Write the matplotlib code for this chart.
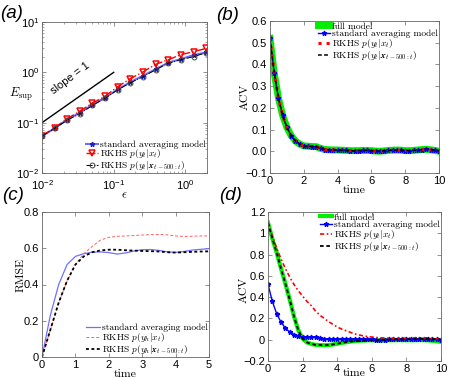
import numpy as np
import matplotlib
matplotlib.use("Agg")
import matplotlib.pyplot as plt

# ---- panel (a): E_sup vs epsilon ----
eps = [0.01, 0.015, 0.0225, 0.0338, 0.0506, 0.0759, 0.114, 0.171, 0.256,
       0.384, 0.577, 0.865, 1.30, 1.95]
esup_avg = [0.054, 0.077, 0.115, 0.158, 0.228, 0.314, 0.459, 0.642, 0.859,
            1.16, 1.56, 1.84, 2.21, 2.50]
esup_rkhs = [0.055, 0.079, 0.12, 0.17, 0.245, 0.335, 0.52, 0.75, 1.02,
             1.44, 1.78, 2.24, 2.57, 2.99]
esup_rkhs_mem = [0.054, 0.077, 0.112, 0.152, 0.22, 0.305, 0.45, 0.62, 0.82,
                 1.12, 1.52, 1.78, 2.05, 2.45]
slope_x = [0.01, 0.1]
slope_y = [0.1, 1.0]

# ---- panel (b) / (d): ACV, time 0..10 step 0.25 ----
t_acv = np.arange(41) * 0.25
acv_avg = [0.52, 0.36, 0.245, 0.165, 0.11, 0.072, 0.048, 0.033, 0.025, 0.023,
           0.022, 0.021, 0.013, 0.008, 0.007, 0.006, 0.006, 0.005, 0.004, 0.003,
           0.003, 0.003, 0.004, 0.004, 0.003, 0.001, 0.0, 0.002, 0.004, 0.005,
           0.006, 0.005, 0.003, 0.003, 0.004, 0.006, 0.008, 0.009, 0.007, 0.004,
           0.002]
acv_full_b = [0.52, 0.36, 0.245, 0.165, 0.11, 0.072, 0.048, 0.033, 0.025, 0.023,
              0.022, 0.021, 0.013, 0.008, 0.007, 0.006, 0.006, 0.005, 0.004, 0.003,
              0.003, 0.003, 0.004, 0.004, 0.003, 0.001, 0.0, 0.002, 0.004, 0.005,
              0.006, 0.005, 0.003, 0.003, 0.004, 0.006, 0.008, 0.009, 0.007, 0.004,
              0.0]
acv_rkhs_b = acv_avg
acv_rkhs_mem_b = acv_avg

acv_full_d = [1.10, 0.95, 0.82, 0.67, 0.53, 0.38, 0.22, 0.09, 0.01, -0.025,
              -0.04, -0.048, -0.05, -0.052, -0.05, -0.045, -0.038, -0.03, -0.024,
              -0.018, -0.013, -0.01, -0.008, -0.006, -0.005, -0.005, -0.006,
              -0.006, -0.005, -0.005, -0.004, -0.004, -0.005, -0.005, -0.005,
              -0.004, -0.004, -0.006, -0.01, -0.015, -0.02]
acv_rkhs_d = [1.10, 0.97, 0.86, 0.76, 0.67, 0.59, 0.52, 0.46, 0.41, 0.36,
              0.32, 0.27, 0.23, 0.20, 0.17, 0.145, 0.12, 0.10, 0.085, 0.07,
              0.055, 0.045, 0.037, 0.03, 0.025, 0.021, 0.018, 0.016, 0.014, 0.013,
              0.013, 0.014, 0.015, 0.016, 0.017, 0.018, 0.018, 0.015, 0.011, 0.008,
              0.005]
acv_rkhs_mem_d = [1.10, 0.95, 0.82, 0.67, 0.53, 0.38, 0.22, 0.09, 0.01, -0.025,
                  -0.04, -0.048, -0.05, -0.052, -0.05, -0.045, -0.038, -0.03, -0.024,
                  -0.018, -0.013, -0.01, -0.008, -0.006, -0.004, -0.002, 0.0,
                  0.0, 0.001, 0.002, 0.003, 0.004, 0.005, 0.006, 0.008,
                  0.01, 0.012, 0.01, 0.007, 0.004, 0.002]

# ---- panel (c): RMSE, time 0..5 step 0.25 ----
t_rmse = np.arange(21) * 0.25
rmse_avg = [0, 0.23, 0.40, 0.51, 0.555, 0.57, 0.578, 0.58, 0.576, 0.568, 0.574,
            0.585, 0.592, 0.593, 0.588, 0.58, 0.577, 0.582, 0.59, 0.594, 0.598]
rmse_rkhs = [0, 0.15, 0.30, 0.42, 0.51, 0.57, 0.61, 0.645, 0.66, 0.666, 0.668,
             0.67, 0.673, 0.675, 0.676, 0.674, 0.668, 0.665, 0.666, 0.668, 0.668]
rmse_rkhs_mem = [0, 0.15, 0.30, 0.42, 0.51, 0.555, 0.578, 0.588, 0.592, 0.592,
                 0.589, 0.587, 0.585, 0.584, 0.582, 0.578, 0.576, 0.578, 0.58,
                 0.582, 0.583]

lab_avg = "standard averaging model"
lab_full = "full model"
lab_rkhs = r"RKHS $p(y_t|x_t)$"
lab_mem = r"RKHS $p(y_t|\mathbfit{x}_{t-500:t})$"
lab_rkhs_c = r"RKHS $p(y_h|x_t)$"
lab_mem_c = r"RKHS $p(y_h|\mathbfit{x}_{t-500:t})$"

plt.rcParams["font.family"] = ["Liberation Sans", "DejaVu Sans"]
plt.rcParams["mathtext.fontset"] = "cm"
plt.rcParams["font.size"] = 8
SERIF = "cmr10"
LEG = dict(family=SERIF, size=6.8)
LAB = dict(family=SERIF, fontsize=8.5)


def style_axes(ax):
    for s in ax.spines.values():
        s.set_color("#666666")
        s.set_linewidth(0.6)
    ax.tick_params(direction="in", top=True, right=True, length=3,
                   width=0.5, color="#666666", labelsize=8, pad=2)
    ax.tick_params(which="minor", direction="in", top=True, right=True,
                   length=1.5, width=0.4, color="#666666")


def add_legend(ax, loc, anchor, hl=1.3, sp=-0.1):
    ax.legend(loc=loc, bbox_to_anchor=anchor, frameon=False, prop=LEG,
              borderpad=0.05, borderaxespad=0.05, handlelength=hl,
              handletextpad=0.2, labelspacing=sp, numpoints=1)


fig = plt.figure(figsize=(4.63, 3.78), dpi=100)
W, H = 463.0, 378.0


def add_ax(l, t, r, b):
    return fig.add_axes([l / W, 1 - b / H, (r - l) / W, (b - t) / H])


# ---------------- (a) ----------------
ax = add_ax(42, 22, 207, 173)
ax.set_xscale("log")
ax.set_yscale("log")
ax.plot(slope_x, slope_y, color="k", lw=1)
ax.plot(eps, esup_avg, "-", color="#6a6aff", lw=1.4, marker="*", ms=3.5,
        mfc="#2020c8", mec="#2020c8", label=lab_avg)
ax.plot(eps, esup_rkhs, "-.", color="r", lw=1.0, marker="v", ms=4.5,
        mfc="none", mec="r", mew=1.1, label=lab_rkhs)
ax.plot(eps, esup_rkhs_mem, "-.", color="k", lw=0.7, marker="o", ms=3.5,
        mfc="none", mec="#444444", mew=0.7, label=lab_mem)
ax.set_xlim(0.01, 2)
ax.set_ylim(0.01, 10)
ax.text(0.025, 0.75, "slope = 1", rotation=37, ha="center", va="center",
        fontsize=8)
style_axes(ax)
ax.tick_params(axis="x", pad=3.5)
ax.set_xlabel(r"$\epsilon$", fontsize=9, va="center")
ax.xaxis.set_label_coords(0.5, -0.15)
ax.set_ylabel(r"$E_{\rm sup}$", fontsize=9, rotation=0, ha="center", va="center")
ax.yaxis.set_label_coords(-0.127, 0.52)
add_legend(ax, "lower right", (1.0, 0.0), sp=-0.15)

# ---------------- (b) ----------------
ax = add_ax(270, 21, 439, 173)
ax.plot(t_acv, acv_full_b, color="#00ee00", lw=5, label=lab_full)
ax.plot(t_acv, acv_avg, "-", color="b", lw=1, marker="*", ms=3.5,
        label=lab_avg)
ax.plot(t_acv, acv_rkhs_b, ":", color="r", lw=2.2, label=lab_rkhs)
ax.plot(t_acv, acv_rkhs_mem_b, "--", color="k", lw=1.1, dashes=(2.5, 1.5),
        label=lab_mem)
ax.set_xlim(0, 10)
ax.set_ylim(-0.1, 0.6)
ax.set_xticks([0, 2, 4, 6, 8, 10])
ax.set_yticks(np.arange(-0.1, 0.61, 0.1))
style_axes(ax)
ax.set_xlabel("time", va="center", **LAB)
ax.xaxis.set_label_coords(0.5, -0.112)
ax.set_ylabel("ACV", **LAB)
ax.yaxis.set_label_coords(-0.118, 0.5)
add_legend(ax, "upper right", (1.0, 1.0))

# ---------------- (c) ----------------
ax = add_ax(42, 212, 209, 357)
ax.plot(t_rmse, rmse_avg, "-", color="#7070ff", lw=0.9, label=lab_avg)
ax.plot(t_rmse, rmse_rkhs, "--", color="#ff6060", lw=0.7, dashes=(3, 2),
        label=lab_rkhs_c)
ax.plot(t_rmse, rmse_rkhs_mem, "--", color="k", lw=1.3, dashes=(1.6, 1.4),
        label=lab_mem_c)
ax.set_xlim(0, 5)
ax.set_ylim(0, 0.8)
ax.set_xticks([0, 1, 2, 3, 4, 5])
ax.set_yticks([0, 0.2, 0.4, 0.6, 0.8])
ax.set_yticklabels(["0", "0.2", "0.4", "0.6", "0.8"])
style_axes(ax)
ax.set_xlabel("time", va="center", **LAB)
ax.xaxis.set_label_coords(0.5, -0.117)
ax.set_ylabel("RMSE", **LAB)
ax.yaxis.set_label_coords(-0.10, 0.565)
add_legend(ax, "lower right", (1.0, 0.0), hl=1.5)

# ---------------- (d) ----------------
ax = add_ax(268, 212, 441, 361)
ax.plot(t_acv, acv_full_d, color="#00ee00", lw=3, label=lab_full)
ax.plot(t_acv, acv_avg, "-", color="b", lw=1, marker="*", ms=3.5,
        label=lab_avg)
ax.plot(t_acv, acv_rkhs_d, color="r", lw=1.2, dashes=(2.5, 1.5, 1, 1.5),
        label=lab_rkhs)
ax.plot(t_acv, acv_rkhs_mem_d, "--", color="k", lw=1.3, dashes=(2, 1.5),
        label=lab_mem)
ax.set_xlim(0, 10)
ax.set_ylim(-0.2, 1.2)
ax.set_xticks([0, 2, 4, 6, 8, 10])
ax.set_yticks([-0.2, 0, 0.2, 0.4, 0.6, 0.8, 1.0, 1.2])
ax.set_yticklabels(["\u22120.2", "0", "0.2", "0.4", "0.6", "0.8", "1", "1.2"])
style_axes(ax)
ax.set_xlabel("time", va="center", **LAB)
ax.xaxis.set_label_coords(0.5, -0.081)
ax.set_ylabel("ACV", **LAB)
ax.yaxis.set_label_coords(-0.11, 0.48)
add_legend(ax, "upper right", (1.0, 1.0))

# panel letters
for s, x, y in [("(a)", 12, 14), ("(b)", 228, 15), ("(c)", 13, 196),
                ("(d)", 231, 196)]:
    fig.text(x / W, 1 - y / H, s, ha="center", va="center", fontsize=13.5,
             style="italic")

fig.savefig("out.png", dpi=100)
